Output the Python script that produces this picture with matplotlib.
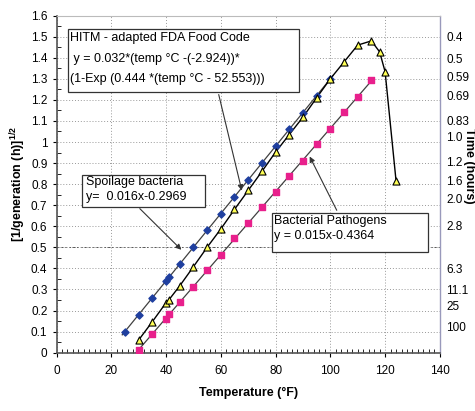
import numpy as np
import matplotlib
matplotlib.use('Agg')
import matplotlib.pyplot as plt
from matplotlib.ticker import MultipleLocator
from matplotlib.patches import Rectangle

plt.rcParams['font.family'] = ['Liberation Sans', 'DejaVu Sans']

# spoilage bacteria (blue diamonds)
spoil_x = [25, 30, 35, 40, 41, 45, 50, 55, 60, 65, 70, 75, 80, 85, 90, 95, 100]
spoil_y = [0.10, 0.18, 0.26, 0.34, 0.36, 0.42, 0.50, 0.58, 0.66, 0.74, 0.82,
           0.90, 0.98, 1.06, 1.14, 1.22, 1.30]

# HITM - adapted FDA food code (triangles)
hitm_x = [30, 35, 40, 41, 45, 50, 55, 60, 65, 70, 75, 80, 85, 90, 95, 100,
          105, 110, 115, 118, 120, 124]
hitm_y = [0.06, 0.147, 0.237, 0.25, 0.317, 0.408, 0.50, 0.587, 0.68, 0.77,
          0.86, 0.952, 1.035, 1.118, 1.21, 1.30, 1.38, 1.46, 1.48, 1.428,
          1.334, 0.816]

# bacterial pathogens (pink squares)
path_x = [30, 35, 40, 41, 45, 50, 55, 60, 65, 70, 75, 80, 85, 90, 95, 100,
          105, 110, 115]
path_y = [0.013, 0.089, 0.16, 0.184, 0.242, 0.31, 0.392, 0.464, 0.543, 0.614,
          0.693, 0.761, 0.84, 0.911, 0.99, 1.062, 1.144, 1.212, 1.294]

# right axis (time, hours) labels and where they sit on the left scale
time_labels = ['0.4', '0.5', '0.59', '0.69', '0.83', '1.0', '1.2', '1.6',
               '2.0', '2.8', '6.3', '11.1', '25', '100']
time_pos = [1.494, 1.39, 1.305, 1.212, 1.096, 1.017, 0.90, 0.81, 0.725,
            0.598, 0.39, 0.294, 0.215, 0.116]

fig = plt.figure(figsize=(4.75, 4.11), dpi=100)
ax = fig.add_axes([0.119, 0.142, 0.807, 0.820])

# trend lines
for xs, ys in [(spoil_x, spoil_y), (path_x, path_y)]:
    k, b = np.polyfit(xs, ys, 1)
    xx = np.array([min(xs) - 1, max(xs) + 1])
    ax.plot(xx, k * xx + b, color='#404040', lw=0.9, zorder=2)

ax.plot(hitm_x, hitm_y, color='black', lw=1.0, zorder=2)

ax.scatter(spoil_x, spoil_y, marker='D', s=13, color='#1f3f9f', zorder=3)
ax.scatter(path_x, path_y, marker='s', s=24, color='#e8208c', zorder=3)
ax.scatter(hitm_x, hitm_y, marker='^', s=26, facecolor='#ffff55',
           edgecolor='black', linewidths=0.8, zorder=4)

ax.set_xlim(0, 140)
ax.set_ylim(0, 1.6)
ax.xaxis.set_major_locator(MultipleLocator(20))
ax.xaxis.set_minor_locator(MultipleLocator(2))
ax.yaxis.set_minor_locator(MultipleLocator(0.05))
ax.set_yticks(np.arange(0, 1.61, 0.1))
ax.set_yticklabels(['0', '0.1', '0.2', '0.3', '0.4', '0.5', '0.6', '0.7', '0.8',
                    '0.9', '1', '1.1', '1.2', '1.3', '1.4', '1.5', '1.6'])
ax.tick_params(axis='both', which='major', labelsize=8.5, direction='out',
               length=3, width=0.8)
ax.tick_params(axis='x', which='major', pad=6)
ax.tick_params(axis='both', which='minor', direction='in', length=3, width=0.6)
ax.grid(True, which='major', color='#999999', linestyle=(0, (1, 2)), lw=0.7)
ax.axhline(0.5, color='#555555', linestyle=(0, (2, 2)), lw=0.7, zorder=1)

for s in ['left', 'bottom']:
    ax.spines[s].set_color('#555555')
    ax.spines[s].set_linewidth(1.2)
ax.spines['top'].set_color('#bbbbbb')
ax.spines['right'].set_color('#9999bb')
ax.spines['right'].set_linewidth(1.0)

ax.set_xlabel('Temperature (°F)', fontsize=9, fontweight='bold', labelpad=7)
ax.set_ylabel('[1/generation (h)]$^{\\mathregular{1/2}}$', fontsize=9,
              fontweight='bold', labelpad=2)

# right axis labels
for lab, p in zip(time_labels, time_pos):
    ax.text(1.017, p, lab, transform=ax.get_yaxis_transform(), fontsize=8.5,
            ha='left', va='center')
fig.text(0.974, 0.596, 'Time (hours)', rotation=270, fontsize=9,
         fontweight='bold', ha='left', va='center')

# text boxes (box corners, then the lines inside)
boxes = [
    ((4.24, 1.238), 84.5, 0.297),
    ((9.36, 0.693), 44.8, 0.150),
    ((78.6, 0.476), 57.2, 0.188),
]
for (x0, y0), w, h in boxes:
    ax.add_patch(Rectangle((x0, y0), w, h, facecolor='white',
                           edgecolor='#333333', lw=0.9, zorder=5))

box_lines = [
    (4.9, 1.493, 'HITM - adapted FDA Food Code'),
    (4.9, 1.393, ' y = 0.032*(temp °C -(-2.924))*'),
    (4.9, 1.299, '(1-Exp (0.444 *(temp °C - 52.553)))'),
    (10.6, 0.811, 'Spoilage bacteria'),
    (10.6, 0.740, 'y=  0.016x-0.2969'),
    (79.5, 0.626, 'Bacterial Pathogens'),
    (79.5, 0.554, 'y = 0.015x-0.4364'),
]
for tx, ty, t in box_lines:
    ax.text(tx, ty, t, fontsize=9, ha='left', va='center', zorder=6)

arrow = dict(arrowstyle='-|>', color='#333333', lw=0.8, mutation_scale=8)
ax.annotate('', xy=(67.9, 0.757), xytext=(59, 1.238), arrowprops=arrow)
ax.annotate('', xy=(46.3, 0.479), xytext=(29.7, 0.693), arrowprops=arrow)
ax.annotate('', xy=(92, 0.943), xytext=(102.8, 0.664), arrowprops=arrow)

fig.savefig('out.png', dpi=100)
